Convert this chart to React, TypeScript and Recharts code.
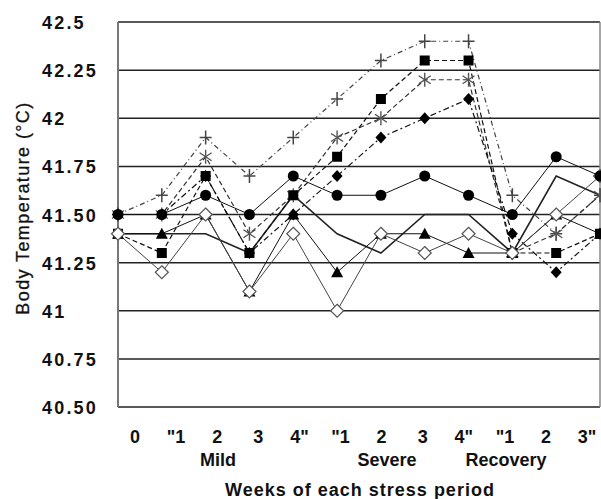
import React from "react";
import { LineChart, Line, XAxis, YAxis, CartesianGrid, ReferenceLine } from "recharts";

const weekIndex = [0, 1, 2, 3, 4, 5, 6, 7, 8, 9, 10, 11];
const weekLabels = ["0", "\"1", "2", "3", "4\"", "\"1", "2", "3", "4\"", "\"1", "2", "3\""];
const yTicks = [40.5, 40.75, 41, 41.25, 41.5, 41.75, 42, 42.25, 42.5];
const yTickLabels = ["40.50", "40.75", "41", "41.25", "41.50", "41.75", "42", "42.25", "42.5"];
const periodLabels = ["Mild", "Severe", "Recovery"];

const circleSeries = [41.5, 41.5, 41.6, 41.5, 41.7, 41.6, 41.6, 41.7, 41.6, 41.5, 41.8, 41.7];
const squareSeries = [41.4, 41.3, 41.7, 41.3, 41.6, 41.8, 42.1, 42.3, 42.3, 41.3, 41.3, 41.4];
const asteriskSeries = [41.5, 41.5, 41.8, 41.4, 41.6, 41.9, 42.0, 42.2, 42.2, 41.3, 41.4, 41.6];
const diamondSeries = [41.5, 41.5, 41.7, 41.3, 41.5, 41.7, 41.9, 42.0, 42.1, 41.4, 41.2, 41.4];
const plusSeries = [41.5, 41.6, 41.9, 41.7, 41.9, 42.1, 42.3, 42.4, 42.4, 41.6, 41.4, 41.6];
const openDiamondSeries = [41.4, 41.2, 41.5, 41.1, 41.4, 41.0, 41.4, 41.3, 41.4, 41.3, 41.5, 41.7];
const triangleSeries = [41.4, 41.4, 41.5, 41.1, 41.5, 41.2, 41.4, 41.4, 41.3, 41.3, 41.5, 41.4];
const plainSeries = [41.4, 41.4, 41.4, 41.3, 41.6, 41.4, 41.3, 41.5, 41.5, 41.3, 41.7, 41.6];

const data = weekIndex.map((i, k) => ({
  i,
  circle: circleSeries[k],
  square: squareSeries[k],
  asterisk: asteriskSeries[k],
  diamond: diamondSeries[k],
  plus: plusSeries[k],
  openDiamond: openDiamondSeries[k],
  triangle: triangleSeries[k],
  plain: plainSeries[k],
}));

const FONT = "'Liberation Sans', Arial, sans-serif";

const dotKey = (p: any, n: string) => `${n}-${p.index}`;

const CircleDot = (p: any) => (
  <circle key={dotKey(p, "c")} cx={p.cx} cy={p.cy} r={5.5} fill="#000" />
);
const SquareDot = (p: any) => (
  <rect key={dotKey(p, "s")} x={p.cx - 5} y={p.cy - 5} width={10} height={10} fill="#000" />
);
const TriangleDot = (p: any) => (
  <path key={dotKey(p, "t")} d={`M${p.cx},${p.cy - 6} L${p.cx + 6},${p.cy + 5} L${p.cx - 6},${p.cy + 5} Z`} fill="#000" />
);
const DiamondDot = (p: any) => (
  <path key={dotKey(p, "d")} d={`M${p.cx},${p.cy - 6} L${p.cx + 5.5},${p.cy} L${p.cx},${p.cy + 6} L${p.cx - 5.5},${p.cy} Z`} fill="#000" />
);
const OpenDiamondDot = (p: any) => (
  <path key={dotKey(p, "od")} d={`M${p.cx},${p.cy - 6.5} L${p.cx + 6.5},${p.cy} L${p.cx},${p.cy + 6.5} L${p.cx - 6.5},${p.cy} Z`} fill="#fff" stroke="#555" strokeWidth={1.2} />
);
const PlusDot = (p: any) => (
  <g key={dotKey(p, "p")} stroke="#444" strokeWidth={1.5}>
    <line x1={p.cx - 6} y1={p.cy} x2={p.cx + 6} y2={p.cy} />
    <line x1={p.cx} y1={p.cy - 7} x2={p.cx} y2={p.cy + 7} />
  </g>
);
const AsteriskDot = (p: any) => (
  <g key={dotKey(p, "a")} stroke="#555" strokeWidth={1.4}>
    <line x1={p.cx} y1={p.cy - 7} x2={p.cx} y2={p.cy + 7} />
    <line x1={p.cx - 6} y1={p.cy - 4} x2={p.cx + 6} y2={p.cy + 4} />
    <line x1={p.cx - 6} y1={p.cy + 4} x2={p.cx + 6} y2={p.cy - 4} />
  </g>
);

const YTick = (p: any) => {
  const idx = yTicks.indexOf(p.payload.value);
  return (
    <text x={42} y={p.y} dy={7} textAnchor="start" fontFamily={FONT} fontSize={18} fontWeight="bold" letterSpacing={2.2} fill="#111">
      {yTickLabels[idx]}
    </text>
  );
};

const XTick = (p: any) => (
  <text x={p.x} y={p.y} dy={-2} textAnchor="middle" fontFamily={FONT} fontSize={18} fontWeight="bold" fill="#111">
    {weekLabels[p.payload.value]}
  </text>
);

export default function App() {
  return (
    <div style={{ position: "absolute", left: 0, top: 0, width: 601, height: 499, background: "#fff" }}>
      <LineChart width={601} height={499} data={data} margin={{ top: 22, right: 1, bottom: 52, left: 0 }}>
        <CartesianGrid horizontal vertical={false} stroke="#222" strokeWidth={1.5} />
        <XAxis dataKey="i" type="number" domain={[0, 11]} hide />
        <XAxis
          xAxisId="lab"
          dataKey="i"
          type="number"
          domain={[-0.414, 11.314]}
          ticks={weekIndex}
          allowDataOverflow
          axisLine={false}
          tickLine={false}
          height={40}
          tick={<XTick />}
          interval={0}
        />
        <YAxis
          type="number"
          domain={[40.5, 42.5]}
          ticks={yTicks}
          width={118}
          interval={0}
          axisLine={{ stroke: "#777", strokeWidth: 2 }}
          tickLine={false}
          tick={<YTick />}
        />
        <ReferenceLine x={11} stroke="#888" strokeWidth={1.5} />
        <Line xAxisId="lab" dataKey="circle" stroke="none" strokeWidth={0} dot={false} activeDot={false} legendType="none" isAnimationActive={false} />
        <Line dataKey="plain" stroke="#222" strokeWidth={1.6} dot={false} isAnimationActive={false} />
        <Line dataKey="plus" stroke="#444" strokeWidth={1.2} strokeDasharray="5 3 1 3" dot={PlusDot} isAnimationActive={false} />
        <Line dataKey="asterisk" stroke="#333" strokeWidth={1.2} strokeDasharray="5 3" dot={AsteriskDot} isAnimationActive={false} />
        <Line dataKey="diamond" stroke="#111" strokeWidth={1.2} strokeDasharray="6 3 2 3" dot={DiamondDot} isAnimationActive={false} />
        <Line dataKey="square" stroke="#111" strokeWidth={1.2} strokeDasharray="5 3" dot={SquareDot} isAnimationActive={false} />
        <Line dataKey="triangle" stroke="#111" strokeWidth={1} dot={TriangleDot} isAnimationActive={false} />
        <Line dataKey="openDiamond" stroke="#444" strokeWidth={1} dot={OpenDiamondDot} isAnimationActive={false} />
        <Line dataKey="circle" stroke="#111" strokeWidth={1} dot={CircleDot} isAnimationActive={false} />
      </LineChart>
      <svg width={601} height={499} style={{ position: "absolute", left: 0, top: 0, pointerEvents: "none" }}>
        <text x={218} y={466} textAnchor="middle" fontFamily={FONT} fontSize={18} fontWeight="bold" fill="#111">{periodLabels[0]}</text>
        <text x={387} y={466} textAnchor="middle" fontFamily={FONT} fontSize={18} fontWeight="bold" fill="#111">{periodLabels[1]}</text>
        <text x={506} y={466} textAnchor="middle" fontFamily={FONT} fontSize={18} fontWeight="bold" fill="#111">{periodLabels[2]}</text>
        <text x={360} y={496} textAnchor="middle" fontFamily={FONT} fontSize={18} fontWeight="bold" letterSpacing={1} fill="#111">Weeks of each stress period</text>
        <text x={0} y={0} transform="translate(29,208) rotate(-90)" textAnchor="middle" fontFamily={FONT} fontSize={18} letterSpacing={1.4} fill="#111" stroke="#111" strokeWidth={0.3}>Body Temperature (°C)</text>
      </svg>
    </div>
  );
}
